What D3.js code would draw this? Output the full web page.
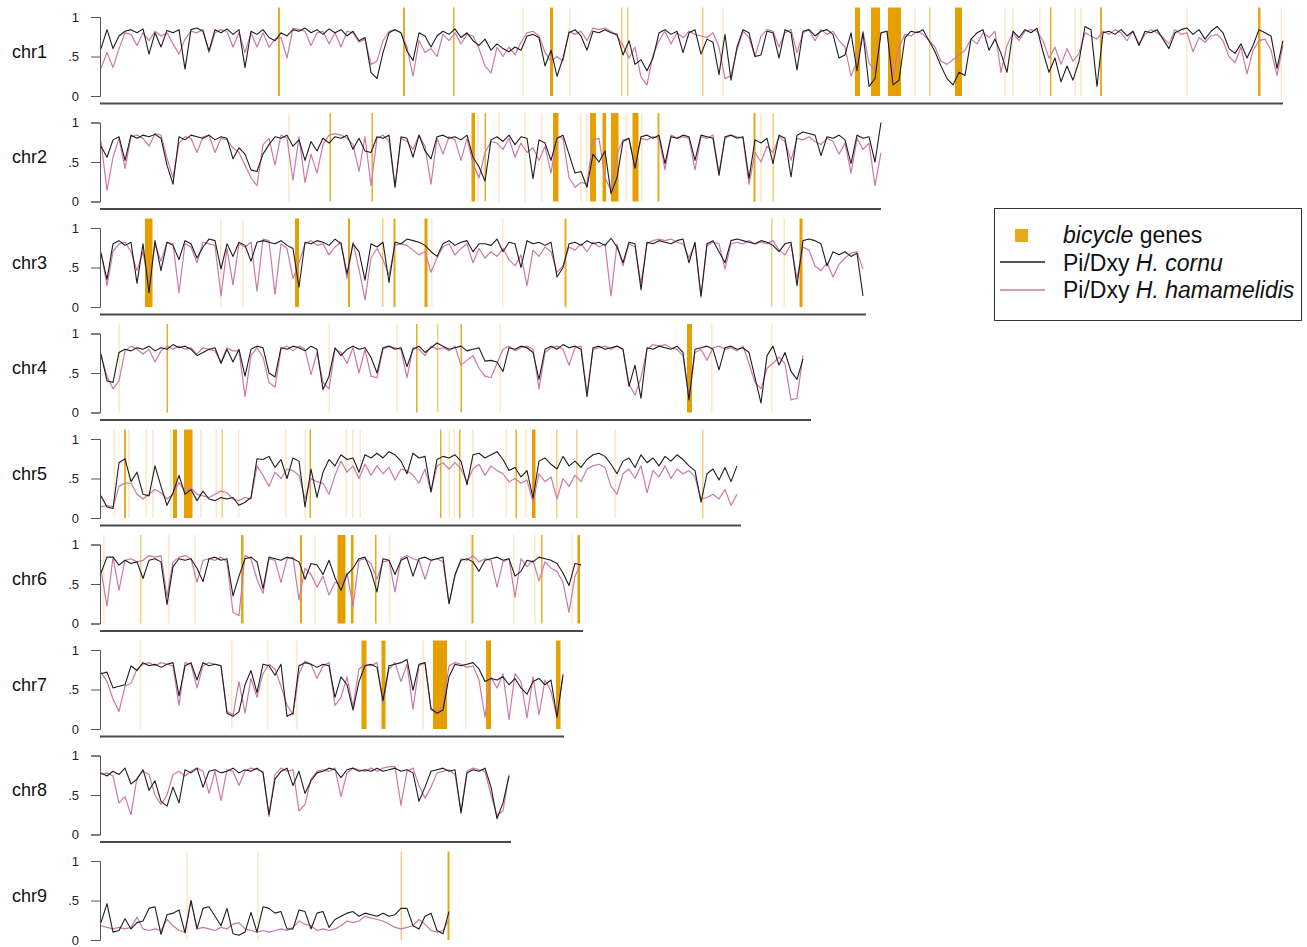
<!DOCTYPE html>
<html>
<head>
<meta charset="utf-8">
<script src="https://cdn.jsdelivr.net/npm/d3@7"></script>
<style>
  body { margin: 0; background: #fff; }
  svg { display: block; font-family: "Liberation Sans", Arial, sans-serif; }
</style>
</head>
<body>
<script>
// chromosomes and their lengths (Mb)
var chroms = ["chr1", "chr2", "chr3", "chr4", "chr5", "chr6", "chr7", "chr8", "chr9"];
var chromLen = [118.2, 78.0, 76.5, 71.0, 64.0, 48.2, 46.3, 41.0, 35.4];
var windowMb = 0.6;

// Pi/Dxy x100 per window, H. cornu
var cornu1 = [60,84,60,76,82,84,80,85,53,80,62,83,80,84,34,84,86,82,57,84,80,85,78,84,36,82,78,84,74,70,80,76,84,82,86,80,84,78,85,80,84,76,82,70,74,30,22,55,80,84,80,57,45,80,76,62,76,82,78,85,74,80,70,64,72,58,66,60,56,62,58,76,78,74,38,58,25,48,80,84,76,58,82,80,84,80,78,52,70,40,46,32,48,80,84,78,82,55,80,84,
  53,72,68,27,78,20,62,84,80,50,52,82,80,48,84,80,33,82,84,76,82,84,78,48,52,80,32,80,12,22,80,82,14,20,74,82,80,84,70,56,38,22,14,30,26,72,80,84,58,72,54,30,82,74,84,80,86,56,30,48,18,38,20,44,88,84,12,80,82,78,84,76,82,64,82,80,84,72,60,80,84,86,78,84,72,82,88,80,60,54,66,48,64,84,80,76,35,70];
var cornu2 = [70,56,78,82,52,84,80,84,82,85,80,46,22,82,78,84,82,80,84,78,82,80,54,68,60,40,38,60,72,82,80,84,70,78,52,76,64,80,74,82,80,84,66,80,64,62,82,80,84,18,82,80,56,84,64,54,82,84,80,82,78,84,56,44,26,78,
  82,76,84,72,82,80,29,78,74,52,80,84,60,36,38,18,60,50,64,10,30,76,80,42,82,84,80,84,48,82,80,84,82,52,84,82,80,33,82,84,80,82,29,78,74,80,48,84,80,31,84,88,86,84,58,82,80,84,78,48,84,80,82,50,100];
var cornu3 = [68,35,80,84,78,82,30,80,18,84,46,82,78,60,84,80,62,76,86,84,48,80,64,82,78,58,82,84,82,80,84,78,74,25,82,80,84,82,78,86,80,42,80,70,34,80,76,82,31,82,80,86,84,82,78,70,64,80,84,78,82,84,70,80,
  80,78,86,70,82,80,50,84,80,82,78,82,38,50,80,82,78,84,80,82,78,87,76,56,82,80,22,82,80,84,82,80,84,86,56,82,14,80,84,70,56,84,86,84,82,80,84,82,78,70,80,82,27,84,86,84,80,52,70,66,70,64,68,14];
var cornu4 = [74,40,38,76,80,78,82,80,84,78,82,80,86,82,84,80,72,76,80,82,62,80,64,80,46,80,84,82,50,45,82,80,84,82,78,84,80,29,46,82,72,80,84,80,82,70,50,82,84,80,82,58,80,84,76,82,88,84,80,82,84,78,80,82,65,66,64,52,82,80,84,82,76,42,80,84,80,86,82,84,80,20,82,84,80,82,84,80,33,60,18,82,80,84,82,80,84,76,16,80,82,84,80,54,82,84,80,82,76,44,12,72,84,60,76,52,42,68];
var cornu5 = [28,14,12,70,75,46,58,30,28,66,40,16,32,54,30,36,22,34,24,22,26,24,26,16,20,26,75,74,78,64,74,50,76,72,14,62,26,58,74,66,80,74,76,58,80,76,82,76,84,80,72,56,82,76,78,33,74,78,76,80,72,42,80,82,76,80,84,74,60,64,52,60,25,72,76,68,62,78,66,72,64,74,80,82,78,68,56,72,76,64,80,70,76,66,78,72,80,74,66,60,20,56,62,48,64,46,66];
var cornu6 = [64,84,84,74,80,76,78,57,80,82,78,24,72,82,80,82,70,53,82,84,80,82,35,60,82,84,78,44,84,82,80,84,82,78,56,76,74,62,80,58,42,62,70,82,84,66,40,82,80,62,80,84,60,82,84,80,82,84,25,62,80,82,78,66,80,82,84,80,82,60,66,80,78,84,82,80,76,64,48,76,74];
var cornu7 = [70,72,52,54,56,80,74,84,80,82,78,82,84,42,80,84,62,84,80,82,80,20,16,22,56,74,46,82,80,68,82,16,20,80,84,82,78,82,80,40,66,56,24,60,80,82,78,36,80,82,84,88,49,82,84,26,20,24,66,82,80,82,84,76,60,64,62,66,56,64,52,44,60,64,56,62,15,68];
var cornu8 = [78,74,80,76,84,64,70,82,56,68,42,36,60,40,82,78,84,60,80,82,78,80,84,78,82,80,84,78,25,70,80,84,62,80,52,68,78,80,84,82,72,82,84,80,82,80,84,80,82,84,80,82,78,42,60,80,82,84,80,82,27,78,82,80,84,60,20,40,74];
var cornu9 = [22,46,10,12,27,14,22,24,40,42,7,32,34,38,9,50,14,40,42,30,18,40,8,6,10,35,10,42,40,34,36,14,14,38,36,14,34,36,16,26,30,34,36,30,34,32,30,34,30,32,40,40,18,14,30,34,12,8,36];

// Pi/Dxy x100 per window, H. hamamelidis
var hamam1 = [35,55,36,60,80,78,64,80,70,82,76,80,66,53,72,82,80,84,55,80,84,82,62,80,55,80,62,80,62,72,74,48,86,84,82,64,80,82,66,80,62,82,80,68,72,40,44,70,82,84,80,62,25,70,55,60,50,78,70,80,66,78,76,60,38,29,62,50,62,52,68,80,82,76,55,44,50,44,82,78,82,70,86,84,86,82,76,64,48,62,24,14,52,70,82,66,80,74,82,78,
  76,74,80,62,22,26,58,82,74,50,76,84,82,62,80,84,55,80,84,70,84,78,82,70,62,25,44,82,42,32,80,82,26,62,78,76,82,78,70,62,44,40,46,52,58,72,66,80,74,82,30,64,80,70,82,84,82,70,48,62,40,60,44,54,80,76,72,82,78,84,80,70,82,66,78,84,80,74,66,84,78,80,56,74,68,76,78,70,50,42,62,28,58,70,72,58,26,64];
var hamam2 = [76,14,56,80,42,82,84,80,70,86,84,55,30,74,82,80,62,82,84,62,80,78,68,62,46,30,20,72,80,46,84,80,27,82,24,60,36,72,84,86,84,80,72,38,82,20,80,84,76,18,80,76,66,84,70,22,80,60,82,78,52,80,48,30,62,76,
  74,66,80,56,74,62,68,52,70,36,82,80,30,18,24,22,78,80,30,14,60,78,80,44,80,78,82,80,40,84,80,82,80,40,82,80,84,36,80,84,82,80,22,62,50,70,62,82,76,52,80,78,82,76,72,80,76,60,74,36,80,66,74,20,62];
var hamam3 = [70,27,70,80,82,70,46,70,26,80,58,82,80,18,80,76,56,82,80,78,14,74,28,80,76,82,20,86,84,16,80,74,36,56,80,84,78,80,66,76,82,36,82,48,9,62,74,60,40,78,80,78,72,66,70,44,62,76,80,66,74,80,56,74,
  62,70,64,74,60,52,66,27,72,64,76,70,44,52,76,72,80,70,82,76,80,14,80,52,80,76,30,80,84,86,84,86,82,80,62,80,12,78,82,80,48,80,82,80,84,80,82,80,84,72,66,80,36,76,72,52,46,56,38,54,62,68,70,48];
var hamam4 = [72,46,30,40,78,84,80,74,80,64,78,84,80,84,80,82,74,82,80,78,64,82,78,78,20,72,82,70,38,32,80,84,78,84,80,48,76,38,30,80,76,62,82,50,80,46,44,80,84,82,80,44,82,80,72,84,80,82,78,84,60,66,72,56,46,44,62,80,84,78,82,84,80,30,76,82,84,80,60,82,84,24,80,82,84,80,84,80,36,22,44,80,86,84,86,82,80,72,18,76,80,66,82,84,80,82,78,84,62,38,30,56,62,70,62,16,18,72];
var hamam5 = [14,16,14,40,44,44,30,24,30,36,32,24,30,45,34,38,30,28,26,30,34,32,24,22,26,24,66,54,40,58,50,62,60,54,24,50,46,44,30,54,72,58,66,50,68,54,66,56,64,48,62,60,54,44,62,33,66,70,62,70,62,46,62,68,54,66,60,56,46,50,44,48,20,56,46,52,24,50,40,54,46,62,66,68,64,40,30,56,62,50,66,32,60,52,66,50,62,56,60,52,24,26,30,24,36,16,30];
var hamam6 = [68,22,84,42,80,82,78,80,86,84,86,34,78,84,86,82,52,80,82,80,84,78,14,10,86,82,56,38,82,80,52,82,84,30,70,62,46,60,36,52,50,64,22,80,82,76,56,78,80,40,82,86,82,80,56,80,82,78,25,60,82,80,86,78,82,80,46,78,82,33,82,72,80,54,78,70,66,52,14,60,76];
var hamam7 = [72,60,38,22,54,58,76,82,84,80,84,82,80,30,84,82,52,80,84,82,80,22,18,60,20,64,40,70,82,76,54,30,18,70,86,82,64,80,84,30,40,66,28,76,82,80,84,32,76,84,60,82,25,80,84,24,22,28,80,84,82,78,80,62,15,66,52,70,12,70,60,14,66,18,62,48,14,70];
var hamam8 = [76,78,74,40,48,25,72,80,76,50,38,50,76,80,74,80,84,80,52,80,43,82,80,62,80,84,82,80,23,76,84,80,82,30,38,70,80,82,80,84,48,78,84,82,80,84,80,84,86,86,37,80,84,62,46,60,78,80,82,76,30,80,84,82,80,50,24,30,76];
var hamam9 = [18,16,14,16,14,16,29,14,12,14,12,26,18,12,10,50,14,16,14,12,16,14,20,22,14,12,10,12,10,12,14,12,16,24,20,18,12,14,12,14,18,24,22,24,30,28,26,24,20,16,14,16,18,26,20,12,10,12,26];

// bicycle genes: [start Mb, end Mb, genes in block]
var bicycle1 = [[17.7,17.9,3],[30.2,30.4,3],[35.2,35.35,3],[42.1,42.25,1],[44.9,45.2,5],[46.8,46.95,1],[52.0,52.15,2],[52.6,52.75,2],[60.1,60.25,2],[62.1,62.25,1],[75.4,75.9,6],[77.0,77.9,6],[78.7,80.0,6],[81.3,81.45,1],[82.8,82.95,2],[85.4,86.1,6],[90.35,90.5,1],[91.1,91.25,1],[93.8,93.95,1],[94.9,95.05,3],[97.35,97.5,1],[97.9,98.05,1],[99.9,100.1,3],[108.5,108.65,1],[115.7,115.95,4],[117.95,118.1,1]];
var bicycle2 = [[18.7,18.85,1],[22.85,23.0,3],[27.05,27.2,3],[37.05,37.4,5],[37.6,37.75,1],[38.35,38.5,3],[39.7,39.85,1],[42.35,42.5,1],[44.0,44.15,1],[45.2,45.75,5],[47.9,48.05,1],[48.5,48.65,1],[48.9,49.5,6],[50.15,50.5,5],[51.0,51.75,6],[52.45,52.6,1],[53.15,53.75,6],[54.0,54.15,1],[55.65,55.85,3],[65.25,65.45,4],[65.9,66.05,1],[67.15,67.3,2]];
var bicycle3 = [[4.4,5.15,6],[11.9,12.05,1],[14.1,14.25,1],[19.4,19.8,5],[24.7,24.9,4],[28.1,28.25,2],[29.25,29.45,4],[32.35,32.65,5],[33.0,33.15,1],[40.1,40.25,1],[46.35,46.55,3],[67.0,67.15,2],[68.25,68.4,1],[69.85,70.15,5]];
var bicycle4 = [[1.75,1.9,1],[6.55,6.7,3],[22.75,22.9,1],[29.55,29.7,1],[31.5,31.65,3],[33.6,33.75,2],[35.95,36.1,3],[39.85,40.0,1],[58.6,59.1,5],[61.0,61.15,1],[67.0,67.15,1]];
var bicycle5 = [[1.25,1.4,1],[2.3,2.5,3],[2.7,2.85,1],[4.45,4.6,1],[5.1,5.25,1],[6.9,7.05,1],[7.2,7.6,5],[8.3,9.15,6],[9.9,10.05,1],[11.45,11.6,1],[12.05,12.2,2],[13.7,13.85,1],[18.4,18.55,1],[20.35,20.5,1],[20.85,21.0,3],[24.45,24.6,1],[25.1,25.25,1],[25.85,26.0,1],[33.9,34.05,3],[34.75,34.9,1],[35.25,35.4,1],[35.8,35.95,3],[37.1,37.25,1],[40.45,40.6,1],[41.45,41.6,3],[42.4,42.55,1],[43.1,43.45,5],[45.5,45.65,2],[47.5,47.65,2],[51.35,51.5,1],[60.1,60.25,2]];
var bicycle6 = [[0.2,0.35,1],[3.9,4.05,2],[6.7,6.85,1],[9.3,9.45,1],[14.0,14.25,4],[19.9,20.1,4],[21.3,21.45,1],[23.65,24.45,6],[25.0,25.25,5],[27.4,27.55,4],[28.8,28.95,1],[37.05,37.25,3],[41.2,41.35,1],[43.3,43.45,1],[44.0,44.15,3],[47.05,47.2,1],[47.65,47.9,5]];
var bicycle7 = [[3.85,4.0,1],[13.0,13.15,1],[16.6,16.75,1],[19.5,19.65,1],[26.05,26.55,5],[28.05,28.45,5],[32.15,32.3,1],[33.2,34.6,6],[36.4,36.55,1],[38.5,39.0,5],[45.5,45.95,5]];
var bicycle8 = [];
var bicycle9 = [[8.55,8.7,1],[15.6,15.75,1],[29.95,30.1,2],[34.65,34.85,4]];

var cornu = [cornu1, cornu2, cornu3, cornu4, cornu5, cornu6, cornu7, cornu8, cornu9];
var hamam = [hamam1, hamam2, hamam3, hamam4, hamam5, hamam6, hamam7, hamam8, hamam9];
var bicycle = [bicycle1, bicycle2, bicycle3, bicycle4, bicycle5, bicycle6, bicycle7, bicycle8, bicycle9];

var width = 1307, height = 947;
var panelTop = 17, panelStep = 105.5, panelH = 79;
var orange = "#E69F00", black = "#1e1e1e", pink = "#cc79a7";

var svg = d3.select("body").append("svg")
    .attr("width", width)
    .attr("height", height);

// same Mb scale for every chromosome
var x = d3.scaleLinear().domain([0, 118.2]).range([101, 1283]);
var y = d3.scaleLinear().domain([0, 1]).range([panelH, 0]);

// more genes in a block -> more opaque
var geneOpacity = d3.scaleThreshold().domain([2, 3, 4, 5]).range([0.22, 0.5, 0.85, 0.92, 1]);

var line = d3.line()
    .x(function(d, i) { return x(i * windowMb); })
    .y(function(d) { return y(d / 100); });

chroms.forEach(function(name, k) {
    var g = svg.append("g")
        .attr("transform", "translate(0," + (panelTop + k * panelStep) + ")");

    g.selectAll(".gene")
        .data(bicycle[k])
        .enter().append("rect")
        .attr("class", "gene")
        .attr("x", function(d) { return x(d[0]); })
        .attr("width", function(d) { return Math.max(1.3, x(d[1]) - x(d[0])); })
        .attr("y", y(1.12))
        .attr("height", y(0) - y(1.12))
        .attr("fill", orange)
        .attr("fill-opacity", function(d) { return geneOpacity(d[2]); });

    g.append("path")
        .datum(hamam[k])
        .attr("d", line)
        .attr("fill", "none")
        .attr("stroke", pink)
        .attr("stroke-width", 1.2)
        .attr("stroke-linejoin", "round");

    g.append("path")
        .datum(cornu[k])
        .attr("d", line)
        .attr("fill", "none")
        .attr("stroke", black)
        .attr("stroke-width", 1.1)
        .attr("stroke-linejoin", "round");

    // y axis
    var ax = g.append("g")
        .attr("transform", "translate(100,0)")
        .call(d3.axisLeft(y)
            .tickValues([0, 0.5, 1])
            .tickSize(9)
            .tickSizeOuter(9)
            .tickPadding(12)
            .tickFormat(function(d) { return d === 0.5 ? ".5" : String(d); }));
    ax.attr("font-family", null).attr("font-size", 13);
    ax.select(".domain").attr("stroke", "#555");
    ax.selectAll(".tick line").attr("stroke", "#555");
    ax.selectAll(".tick text").attr("fill", "#222");

    // chromosome baseline (the last one falls off the page)
    if (k < chroms.length - 1) {
        g.append("line")
            .attr("x1", 100)
            .attr("x2", x(chromLen[k]))
            .attr("y1", y(0) + 7.5)
            .attr("y2", y(0) + 7.5)
            .attr("stroke", "#4a4a4a")
            .attr("stroke-width", 2);
    }

    g.append("text")
        .attr("x", 12)
        .attr("y", y(0.5) + 1)
        .attr("font-size", 18)
        .attr("fill", "#111")
        .text(name);
});

// Legend
var legend = svg.append("g").attr("transform", "translate(994,208)");
legend.append("rect")
    .attr("x", 0.5).attr("y", 0.5)
    .attr("width", 307).attr("height", 112)
    .attr("fill", "#fff")
    .attr("stroke", "#333");

legend.append("rect")
    .attr("x", 21).attr("y", 21)
    .attr("width", 13).attr("height", 13)
    .attr("fill", orange).attr("fill-opacity", 0.9);

legend.append("line")
    .attr("x1", 6).attr("x2", 51).attr("y1", 54).attr("y2", 54)
    .attr("stroke", black).attr("stroke-width", 1.3);
legend.append("line")
    .attr("x1", 6).attr("x2", 51).attr("y1", 82).attr("y2", 82)
    .attr("stroke", pink).attr("stroke-width", 1.5);

var t1 = legend.append("text").attr("x", 69).attr("y", 35).attr("font-size", 23).attr("fill", "#111");
t1.append("tspan").attr("font-style", "italic").text("bicycle");
t1.append("tspan").text(" genes");

var t2 = legend.append("text").attr("x", 69).attr("y", 63).attr("font-size", 23).attr("fill", "#111");
t2.append("tspan").text("Pi/Dxy ");
t2.append("tspan").attr("font-style", "italic").text("H. cornu");

var t3 = legend.append("text").attr("x", 69).attr("y", 90).attr("font-size", 23).attr("fill", "#111");
t3.append("tspan").text("Pi/Dxy ");
t3.append("tspan").attr("font-style", "italic").text("H. hamamelidis");
</script>
</body>
</html>
